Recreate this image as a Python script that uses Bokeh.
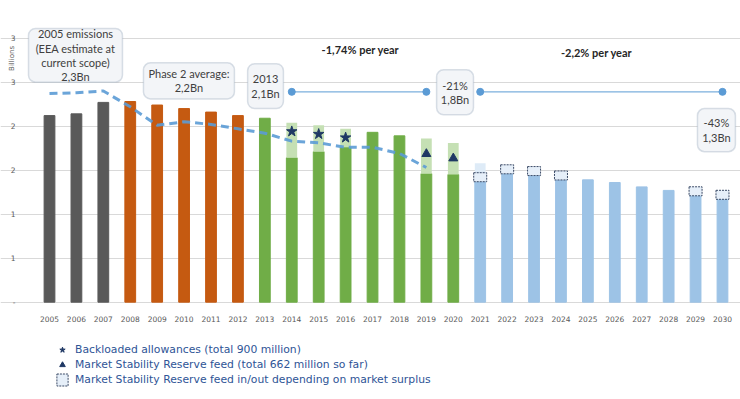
from math import pi
from bokeh.plotting import figure
from bokeh.models import (FixedTicker, BoxAnnotation, Label, Legend, LegendItem, Range1d)
from bokeh.embed import file_html
from bokeh.resources import INLINE

# ---------------- data (billions of allowances / tonnes) ----------------
hist_years = [2005, 2006, 2007]
hist_vals = [2.12, 2.14, 2.27]

phase2_years = [2008, 2009, 2010, 2011, 2012]
phase2_vals = [2.28, 2.24, 2.20, 2.16, 2.12]

phase3_years = [2013, 2014, 2015, 2016, 2017, 2018, 2019, 2020]
phase3_base = [2.09, 1.64, 1.71, 1.76, 1.93, 1.89, 1.46, 1.45]
phase3_extra = [0.00, 0.40, 0.30, 0.21, 0.00, 0.00, 0.40, 0.36]

backload_years = [2014, 2015, 2016]
msr_feed_years = [2019, 2020]

phase4_years = [2021, 2022, 2023, 2024, 2025, 2026, 2027, 2028, 2029, 2030]
phase4_vals = [1.42, 1.51, 1.49, 1.44, 1.39, 1.36, 1.31, 1.27, 1.26, 1.22]
phase4_extra = [0.16, 0, 0, 0, 0, 0, 0, 0, 0, 0]

msr_box_years = [2021, 2022, 2023, 2024, 2029, 2030]

emis_years = [2005, 2006, 2007, 2008, 2009, 2010, 2011, 2012, 2013, 2014,
              2015, 2016, 2017, 2018, 2019]
emis_vals = [2.37, 2.38, 2.40, 2.22, 2.01, 2.05, 2.02, 1.97, 1.92, 1.83,
             1.81, 1.76, 1.76, 1.69, 1.53]

trend1_years = [2014, 2019]
trend2_years = [2021, 2030]
trend_level = 2.39

tick_years = list(range(2005, 2031))
y_ticks = [0, 0.5, 1, 1.5, 2, 2.5, 3]
y_tick_labels = ["-", "1", "1", "2", "2", "3", "3"]

legend_labels = ["Backloaded allowances (total 900 million)",
                 "Market Stability Reserve feed (total 662 million so far)",
                 "Market Stability Reserve feed in/out depending on market surplus"]

# ---------------- derived ----------------
p3_total = [b + e for b, e in zip(phase3_base, phase3_extra)]
p4_total = [b + e for b, e in zip(phase4_vals, phase4_extra)]
star_y = [p3_total[phase3_years.index(y)] - 0.10 for y in backload_years]
tri_y = [p3_total[phase3_years.index(y)] - 0.175 for y in msr_feed_years]
box_y = [phase4_vals[phase4_years.index(y)] for y in msr_box_years]

# ---------------- figure ----------------
X0 = 2004.48   # where the grid starts
X1 = 2030.48   # where the grid ends
p = figure(width=740, height=399, x_range=Range1d(2003.180, 2030.669),
           y_range=Range1d(-1.106, 3.428), output_backend="svg", toolbar_location=None,
           min_border_left=0, min_border_right=0, min_border_top=0,
           min_border_bottom=0)
p.outline_line_color = None
p.background_fill_color = "white"
p.border_fill_color = "white"
p.xgrid.visible = False
p.ygrid.ticker = FixedTicker(ticks=y_ticks)
p.ygrid.grid_line_color = "#d9d9d9"
p.ygrid.grid_line_width = 1
p.ygrid.bounds = (X0, X1)

p.yaxis.ticker = FixedTicker(ticks=y_ticks)
p.yaxis.major_label_overrides = {float(t): l for t, l in zip(y_ticks, y_tick_labels)}
p.yaxis.fixed_location = X0
p.xaxis.ticker = FixedTicker(ticks=tick_years)
p.xaxis.fixed_location = 0
for ax in (p.xaxis, p.yaxis):
    ax.axis_line_color = None
    ax.major_tick_line_color = None
    ax.minor_tick_line_color = None
    ax.major_label_text_font = "DejaVu Sans"
    ax.major_label_text_font_size = "7.5px"
    ax.major_label_text_color = "#595959"
p.xaxis.major_label_standoff = 8
p.yaxis.major_label_standoff = 14

W = 0.40
p.vbar(x=hist_years, top=hist_vals, width=W, color="#595959")
p.vbar(x=phase2_years, top=phase2_vals, width=W, color="#c55a11")
p.vbar(x=phase3_years, top=phase3_base, width=W, color="#70ad47")
p.vbar(x=phase3_years, bottom=phase3_base, top=p3_total, width=W,
       fill_color="#c5e0b4", line_color=None)
p.vbar(x=phase4_years, top=phase4_vals, width=W, color="#9dc3e6")
p.vbar(x=phase4_years, bottom=phase4_vals, top=p4_total, width=W,
       fill_color="#deebf7", line_color=None)

r_box = p.rect(x=msr_box_years, y=box_y, width=13, height=9, width_units="screen",
               height_units="screen", fill_color="#e6eff9", line_color="#3b4a66",
               line_dash="2 1", line_width=1)

p.line(emis_years, emis_vals, line_color="#5b9bd5", line_width=3, line_dash="8 5",
       line_alpha=0.9)

r_star = p.scatter(backload_years, star_y, marker="star", size=11, color="#1f3864")
r_tri = p.scatter(msr_feed_years, tri_y, marker="triangle", size=9, color="#1f3864")

for yrs in (trend1_years, trend2_years):
    p.line(yrs, [trend_level] * 2, line_color="#5b9bd5", line_width=1.2, line_alpha=0.8)
    p.scatter(yrs, [trend_level] * 2, size=7, color="#5b9bd5")

# ---------------- callouts ----------------
callouts = [
    (2004.22, 2007.71, 3.11, 2.50, "2005 emissions\n(EEA estimate at\ncurrent scope)\n2,3Bn"),
    (2008.49, 2011.87, 2.72, 2.31, "Phase 2 average:\n2,2Bn"),
    (2012.36, 2013.69, 2.71, 2.20, "2013\n2,1Bn"),
    (2019.38, 2020.75, 2.64, 2.13, "-21%\n1,8Bn"),
    (2029.07, 2030.48, 2.20, 1.71, "-43%\n1,3Bn"),
]
for l, r, t, b, txt in callouts:
    p.add_layout(BoxAnnotation(left=l, right=r, top=t, bottom=b, fill_color="#f3f5f8",
                               fill_alpha=1, line_color="#8497b0", line_width=1.5,
                               border_radius=7))
    p.add_layout(Label(x=(l + r) / 2, y=(t + b) / 2, text=txt, text_align="center",
                       text_baseline="middle", text_font="Lato", text_font_size="11px",
                       text_color="#404040", text_line_height=1.1))

p.add_layout(Label(x=2016.55, y=2.87, text="-1,74% per year", text_align="center",
                   text_baseline="middle", text_font="Lato", text_font_style="bold",
                   text_font_size="11px", text_color="#262626"))
p.add_layout(Label(x=2025.32, y=2.84, text="-2,2% per year", text_align="center",
                   text_baseline="middle", text_font="Lato", text_font_style="bold",
                   text_font_size="11px", text_color="#262626"))
p.add_layout(Label(x=2003.59, y=2.77, text="Billions", angle=pi / 2, text_align="center",
                   text_baseline="middle", text_font="DejaVu Sans", text_font_size="7px",
                   text_color="#595959"))

legend = Legend(items=[LegendItem(label=legend_labels[0], renderers=[r_star]),
                       LegendItem(label=legend_labels[1], renderers=[r_tri]),
                       LegendItem(label=legend_labels[2], renderers=[r_box])],
                location=(55, 12), orientation="vertical", border_line_color=None,
                background_fill_alpha=0, margin=0, padding=0, spacing=0,
                label_height=15, glyph_height=15, glyph_width=14, label_standoff=6,
                label_text_font="DejaVu Sans", label_text_font_size="10.8px",
                label_text_color="#2e5496")
p.add_layout(legend)

open("out.html", "w").write(file_html(p, INLINE))
